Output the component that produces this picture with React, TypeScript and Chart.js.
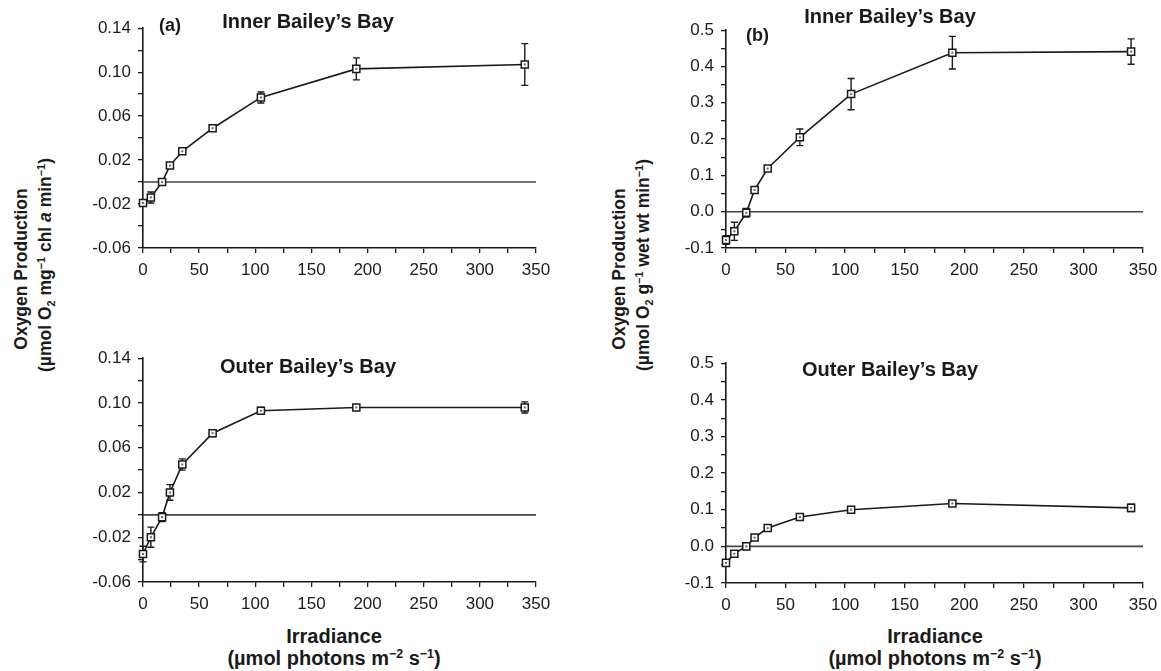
import React, { useEffect, useRef } from "react";
import { Chart, registerables } from "chart.js";

Chart.register(...registerables);

// ---------------- data ----------------
const X_IRR = [0, 7, 17, 24, 35, 62, 105, 190, 340];

const INNER_A = [-0.019, -0.014, 0.0, 0.015, 0.028, 0.049, 0.077, 0.103, 0.107];
const INNER_A_ERR = [0.002, 0.005, 0.002, 0.002, 0.002, 0.002, 0.005, 0.01, 0.019];
const OUTER_A = [-0.035, -0.02, -0.002, 0.02, 0.045, 0.073, 0.093, 0.096, 0.096];
const OUTER_A_ERR = [0.007, 0.009, 0.004, 0.007, 0.005, 0.003, 0.003, 0.002, 0.005];

const INNER_B = [-0.078, -0.054, -0.003, 0.06, 0.119, 0.205, 0.324, 0.438, 0.441];
const INNER_B_ERR = [0.012, 0.025, 0.012, 0.008, 0.008, 0.023, 0.043, 0.045, 0.035];
const OUTER_B = [-0.045, -0.02, 0.0, 0.024, 0.05, 0.08, 0.1, 0.117, 0.105];
const OUTER_B_ERR = [0.008, 0.006, 0.005, 0.005, 0.005, 0.005, 0.005, 0.005, 0.01];

const X_TICKS = [0, 25, 50, 75, 100, 125, 150, 175, 200, 225, 250, 275, 300, 325, 350];
const X_LABELS = [0, 50, 100, 150, 200, 250, 300, 350];

const Y_TICKS_A = [-0.06, -0.04, -0.02, 0, 0.02, 0.04, 0.06, 0.08, 0.1, 0.12, 0.14];
const Y_LABELS_A = [-0.06, -0.02, 0.02, 0.06, 0.1, 0.14];
const Y_TICKS_B = [-0.1, -0.05, 0, 0.05, 0.1, 0.15, 0.2, 0.25, 0.3, 0.35, 0.4, 0.45, 0.5];
const Y_LABELS_B = [-0.1, 0, 0.1, 0.2, 0.3, 0.4, 0.5];

const ZERO_LINE = [0, 350];

const FONT = '"Liberation Sans", Arial, Helvetica, sans-serif';
const INK = "#1a1a1a";

type Box = { L: number; T: number; W: number; H: number };

function Panel(props: {
  box: Box;
  ys: number[];
  errs: number[];
  yMin: number;
  yMax: number;
  yTicks: number[];
  yLabels: number[];
  digits: number;
}) {
  const ref = useRef<HTMLCanvasElement | null>(null);
  const { box, ys, errs, yMin, yMax, yTicks, yLabels, digits } = props;
  const YW = 70,
    PT = 12,
    PR = 28,
    XH = 40;
  const cw = YW + box.W + PR;
  const ch = PT + box.H + XH;

  useEffect(() => {
    if (!ref.current) return;
    const errPlugin = {
      id: "errbars",
      beforeDatasetsDraw(chart: any) {
        const meta = chart.getDatasetMeta(0);
        const yS = chart.scales.y;
        const ctx = chart.ctx;
        ctx.save();
        ctx.strokeStyle = INK;
        ctx.lineWidth = 1.4;
        meta.data.forEach((pt: any, i: number) => {
          const e = errs[i];
          if (!e) return;
          const y1 = yS.getPixelForValue(ys[i] + e);
          const y2 = yS.getPixelForValue(ys[i] - e);
          const x = pt.x;
          ctx.beginPath();
          ctx.moveTo(x, y1);
          ctx.lineTo(x, y2);
          ctx.moveTo(x - 3.5, y1);
          ctx.lineTo(x + 3.5, y1);
          ctx.moveTo(x - 3.5, y2);
          ctx.lineTo(x + 3.5, y2);
          ctx.stroke();
        });
        ctx.restore();
      },
      afterDatasetsDraw(chart: any) {
        const meta = chart.getDatasetMeta(0);
        const ctx = chart.ctx;
        ctx.save();
        ctx.fillStyle = "#666";
        meta.data.forEach((pt: any) => {
          ctx.fillRect(pt.x - 1, pt.y - 1, 2, 2);
        });
        ctx.restore();
      },
    };

    const isLab = (arr: number[], v: number) => arr.some((a) => Math.abs(a - v) < 1e-9);

    const chart = new Chart(ref.current, {
      type: "line",
      data: {
        datasets: [
          {
            data: X_IRR.map((x, i) => ({ x, y: ys[i] })),
            borderColor: INK,
            borderWidth: 1.6,
            pointStyle: "rect",
            pointRadius: 5,
            pointBorderWidth: 1.5,
            pointBackgroundColor: "#ffffff",
            pointBorderColor: INK,
            clip: false,
            tension: 0,
          } as any,
          {
            data: ZERO_LINE.map((x) => ({ x, y: 0 })),
            borderColor: "#444",
            borderWidth: 1.6,
            pointRadius: 0,
            clip: false,
          } as any,
        ],
      },
      options: {
        animation: false,
        responsive: false,
        maintainAspectRatio: false,
        layout: { padding: { top: PT, right: PR, left: 0, bottom: 0 }, autoPadding: false } as any,
        plugins: { legend: { display: false }, tooltip: { enabled: false } },
        scales: {
          x: {
            type: "linear",
            min: 0,
            max: 350,
            afterFit: (s: any) => {
              s.height = XH;
            },
            afterBuildTicks: (s: any) => {
              s.ticks = X_TICKS.map((v) => ({ value: v }));
            },
            ticks: {
              autoSkip: false,
              maxRotation: 0,
              padding: 7,
              color: INK,
              font: { family: FONT, size: 17 },
              callback: (v: any) => (isLab(X_LABELS, Number(v)) ? String(v) : ""),
            },
            grid: {
              display: true,
              drawOnChartArea: false,
              drawTicks: true,
              tickLength: 5,
              color: INK,
              lineWidth: 1.3,
            },
            border: { display: true, color: INK, width: 1.6 },
          },
          y: {
            type: "linear",
            min: yMin,
            max: yMax,
            afterFit: (s: any) => {
              s.width = YW;
            },
            afterBuildTicks: (s: any) => {
              s.ticks = yTicks.map((v) => ({ value: v }));
            },
            ticks: {
              autoSkip: false,
              padding: 7,
              color: INK,
              font: { family: FONT, size: 17 },
              callback: (v: any) => (isLab(yLabels, Number(v)) ? Number(v).toFixed(digits) : ""),
            },
            grid: {
              display: true,
              drawOnChartArea: false,
              drawTicks: true,
              tickLength: 5,
              color: INK,
              lineWidth: 1.3,
            },
            border: { display: true, color: INK, width: 1.6 },
          },
        },
      } as any,
      plugins: [errPlugin],
    });
    return () => chart.destroy();
  }, []);

  return (
    <canvas
      ref={ref}
      width={cw}
      height={ch}
      style={{
        position: "absolute",
        left: box.L - YW,
        top: box.T - PT,
        width: cw,
        height: ch,
      }}
    />
  );
}

function Txt(props: {
  x: number;
  y: number;
  size: number;
  bold?: boolean;
  rotate?: boolean;
  center?: boolean;
  children: any;
}) {
  const { x, y, size, bold, rotate, center, children } = props;
  const style: any = {
    position: "absolute",
    left: x,
    top: y,
    fontFamily: FONT,
    fontSize: size,
    fontWeight: bold ? "bold" : "normal",
    lineHeight: 1,
    whiteSpace: "nowrap",
    color: INK,
  };
  if (rotate) {
    style.transform = "translate(-50%, -50%) rotate(-90deg)";
  } else if (center) {
    style.transform = "translateX(-50%)";
  }
  return <div style={style}>{children}</div>;
}

const supStyle: any = { fontSize: "0.62em", verticalAlign: "0.55em", lineHeight: 0 };
const subStyle: any = { fontSize: "0.62em", verticalAlign: "-0.3em", lineHeight: 0 };

function YTitle(props: { x: number; unit: any }) {
  return (
    <>
      <Txt x={props.x} y={269} size={17.5} bold rotate>
        Oxygen Production
      </Txt>
      <Txt x={props.x + 24} y={265} size={17.5} bold rotate>
        {props.unit}
      </Txt>
    </>
  );
}

function XTitle(props: { x: number }) {
  return (
    <>
      <Txt x={props.x} y={626} size={20} bold center>
        Irradiance
      </Txt>
      <Txt x={props.x} y={648} size={20} bold center>
        (µmol photons m<span style={supStyle}>−2</span> s<span style={supStyle}>−1</span>)
      </Txt>
    </>
  );
}

export default function App() {
  return (
    <div
      style={{
        position: "absolute",
        left: 0,
        top: 0,
        width: 1161,
        height: 671,
        background: "#ffffff",
        overflow: "hidden",
      }}
    >
      <Panel
        box={{ L: 143, T: 23, W: 393, H: 225 }}
        ys={INNER_A}
        errs={INNER_A_ERR}
        yMin={-0.06}
        yMax={0.14}
        yTicks={Y_TICKS_A}
        yLabels={Y_LABELS_A}
        digits={2}
      />
      <Panel
        box={{ L: 143, T: 353, W: 393, H: 229 }}
        ys={OUTER_A}
        errs={OUTER_A_ERR}
        yMin={-0.06}
        yMax={0.14}
        yTicks={Y_TICKS_A}
        yLabels={Y_LABELS_A}
        digits={2}
      />
      <Panel
        box={{ L: 726, T: 25, W: 417, H: 223 }}
        ys={INNER_B}
        errs={INNER_B_ERR}
        yMin={-0.1}
        yMax={0.5}
        yTicks={Y_TICKS_B}
        yLabels={Y_LABELS_B}
        digits={1}
      />
      <Panel
        box={{ L: 726, T: 358, W: 417, H: 225 }}
        ys={OUTER_B}
        errs={OUTER_B_ERR}
        yMin={-0.1}
        yMax={0.5}
        yTicks={Y_TICKS_B}
        yLabels={Y_LABELS_B}
        digits={1}
      />

      <Txt x={159} y={16} size={18} bold>
        (a)
      </Txt>
      <Txt x={746} y={26} size={18} bold>
        (b)
      </Txt>
      <Txt x={308} y={11} size={20} bold center>
        Inner Bailey’s Bay
      </Txt>
      <Txt x={308} y={356} size={20} bold center>
        Outer Bailey’s Bay
      </Txt>
      <Txt x={890} y={6} size={20} bold center>
        Inner Bailey’s Bay
      </Txt>
      <Txt x={890} y={359} size={20} bold center>
        Outer Bailey’s Bay
      </Txt>

      <YTitle
        x={22}
        unit={
          <>
            (µmol O<span style={subStyle}>2</span> mg<span style={supStyle}>−1</span> chl{" "}
            <i>a</i> min<span style={supStyle}>−1</span>)
          </>
        }
      />
      <YTitle
        x={620}
        unit={
          <>
            (µmol O<span style={subStyle}>2</span> g<span style={supStyle}>−1</span> wet wt min
            <span style={supStyle}>−1</span>)
          </>
        }
      />

      <XTitle x={334} />
      <XTitle x={935} />
    </div>
  );
}
